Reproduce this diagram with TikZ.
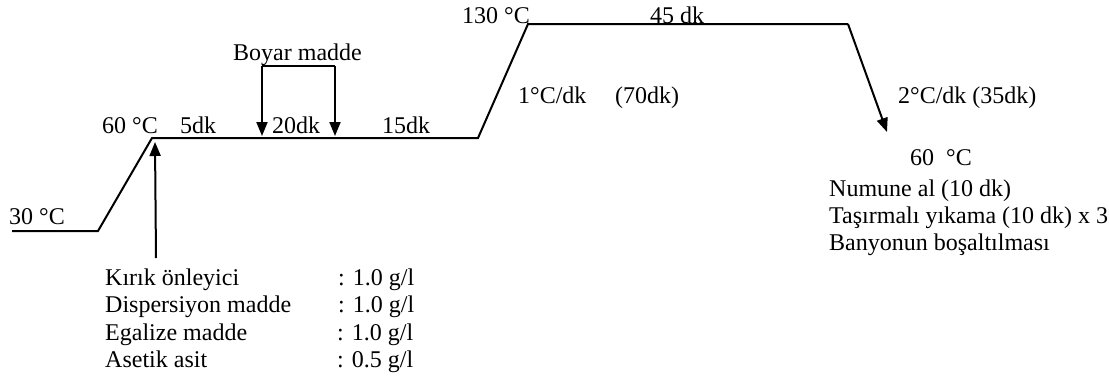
\documentclass[tikz,border=0pt]{standalone}
\usepackage{fontspec}
\setmainfont{Liberation Serif}
\usetikzlibrary{arrows.meta}
\begin{document}
\begin{tikzpicture}[x=1pt,y=-1pt,
  lbl/.style={inner sep=0pt,anchor=base west,font=\fontsize{24}{27}\selectfont},
  curve/.style={line width=2pt,line join=miter},
  arr/.style={line width=2pt,-{Triangle[length=14pt,width=11pt]}}]
\useasboundingbox (0,0) rectangle (1109,383);
% profile points
\coordinate (p0) at (12,231);
\coordinate (p1) at (98,231);
\coordinate (p2) at (152,138);
\coordinate (p3) at (478,138);
\coordinate (p4) at (528,24);
\coordinate (p5) at (848,24);
\coordinate (p6) at (887,132);
\draw[curve] (p0) -- (p1) -- (p2) -- (p3) -- (p4) -- (p5);
\draw[arr] (p5) -- (p6);
% chemical addition arrow
\coordinate (c0) at (156,258);
\coordinate (c1) at (155,142);
\draw[arr] (c0) -- (c1);
% dye addition bracket
\coordinate (b1) at (262,66);
\coordinate (b2) at (335,66);
\coordinate (b1e) at (262,136);
\coordinate (b2e) at (335,136);
\draw[line width=2pt] (b1) -- (b2);
\draw[arr] (b1) -- (b1e);
\draw[arr] (b2) -- (b2e);
% labels
\node[lbl] (t30) at (9,224) {30 °C};
\node[lbl] (t60) at (102,133) {60 °C};
\node[lbl] (t5) at (180,133) {5dk};
\node[lbl] (t20) at (272,133) {20dk};
\node[lbl] (t15) at (382,133) {15dk};
\node[lbl] (tby) at (233,60) {Boyar madde};
\node[lbl] (t130) at (462,23) {130 °C};
\node[lbl] (t45) at (650,23) {45 dk};
\node[lbl] (tr1) at (518,103) {1°C/dk};
\node[lbl] (tr2) at (615,103) {(70dk)};
\node[lbl] (tr3) at (898,103) {2°C/dk (35dk)};
\node[lbl] (te60) at (910,165) {60\ \ °C};
\node[lbl] (tn1) at (829,196) {Numune al (10 dk)};
\node[lbl] (tn2) at (829,223) {Taşırmalı yıkama (10 dk) x 3};
\node[lbl] (tn3) at (829,250) {Banyonun boşaltılması};
% recipe table
\node[lbl] (k1) at (105,285) {Kırık önleyici};
\node[lbl] (k2) at (105,312) {Dispersiyon madde};
\node[lbl] (k3) at (105,340) {Egalize madde};
\node[lbl] (k4) at (105,367) {Asetik asit};
\node[lbl] (v1) at (338,285) {: 1.0 g/l};
\node[lbl] (v2) at (338,312) {: 1.0 g/l};
\node[lbl] (v3) at (337,340) {: 1.0 g/l};
\node[lbl] (v4) at (337,367) {: 0.5 g/l};
\end{tikzpicture}
\end{document}
